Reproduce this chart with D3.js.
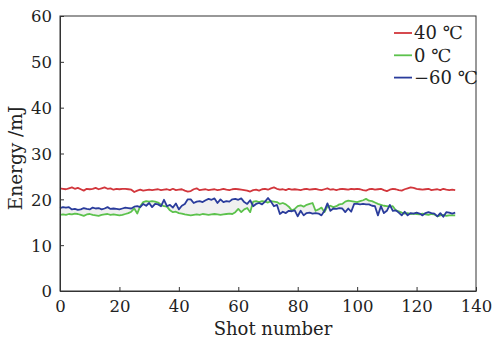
<!DOCTYPE html>
<html>
<head>
<meta charset="utf-8">
<script src="https://cdn.jsdelivr.net/npm/d3@7"></script>
<style>
  html, body { margin: 0; padding: 0; background: #fff; }
  svg { display: block; }
  text { font-family: "DejaVu Serif", "Liberation Serif", serif; fill: #222; }
</style>
</head>
<body>
<svg id="chart" width="494" height="342"></svg>
<script>
// Pulse energy per shot at three temperatures (mJ)
const energy40 = [
  22.4,22.3,22.2,22.4,22.6,22.3,22.5,22.2,21.9,22.3,22.2,22.3,22.5,22.2,22.4,22.6,22.3,22.4,22.1,22.3,
  22.2,22.3,22.3,22.2,22.1,21.6,21.9,22.1,21.9,22.0,22.1,22.0,22.1,22.2,22.0,22.1,22.2,22.0,22.3,22.0,
  22.1,22.2,21.9,21.7,21.8,22.2,22.4,22.0,22.1,22.2,22.0,22.1,22.2,22.0,22.1,22.3,22.1,22.0,22.2,22.3,
  22.2,22.1,22.0,21.9,21.7,22.0,22.1,21.9,22.2,22.3,22.1,22.4,22.6,22.3,22.1,22.2,22.0,22.3,22.1,22.2,
  22.1,22.0,22.2,22.3,22.1,22.2,22.3,22.1,22.0,22.2,22.4,22.1,22.2,22.0,22.2,22.3,22.2,22.1,22.3,22.2,
  22.3,22.2,22.0,21.9,22.2,22.3,22.1,22.2,22.3,22.0,21.8,22.1,22.3,22.2,22.0,21.9,22.2,22.4,22.6,22.5,
  22.3,22.2,22.1,22.2,22.3,22.0,22.1,22.2,22.0,22.3,22.1,22.0,22.1,22.0
];
const energy0 = [
  16.6,16.7,16.6,16.8,16.7,16.9,16.8,16.6,16.4,16.7,16.8,16.6,16.5,16.4,16.6,16.7,16.8,16.6,16.7,16.6,
  16.5,16.6,16.8,17.0,17.3,18.0,16.9,18.5,19.4,19.6,19.5,19.6,19.5,19.3,18.8,18.5,18.4,17.6,17.2,17.3,
  17.0,16.9,16.7,16.6,16.5,16.6,16.7,16.6,16.8,16.7,16.6,16.7,16.8,16.7,16.6,16.7,16.8,16.9,16.8,17.2,
  17.9,17.2,17.8,18.1,17.2,19.5,19.6,19.4,19.6,19.5,19.3,19.6,19.5,19.4,19.0,19.2,18.9,18.4,17.6,17.9,
  18.5,18.7,18.4,18.8,19.0,19.2,17.5,17.8,18.2,17.2,18.4,18.6,18.3,18.5,18.9,19.0,19.5,19.7,19.6,19.5,
  19.4,19.6,19.8,20.1,19.7,19.6,19.3,19.0,18.8,18.6,18.5,18.4,18.5,17.6,17.4,17.1,16.9,17.0,16.8,16.9,
  16.8,16.7,16.9,16.7,16.6,16.8,16.7,16.3,16.5,16.6,16.4,16.5,16.5,16.5
];
const energyM60 = [
  18.1,18.3,18.2,18.3,17.8,17.9,17.7,17.8,18.1,17.9,17.8,18.2,18.0,18.1,17.8,18.0,18.3,17.9,18.0,17.9,
  17.8,18.0,18.2,18.1,18.0,18.4,18.5,18.3,19.0,18.6,19.2,18.3,19.0,18.9,18.5,19.9,18.5,18.8,18.2,19.1,
  17.8,18.6,19.0,20.0,20.0,19.2,19.5,19.6,19.4,19.8,20.1,19.9,20.2,19.2,20.0,19.4,19.6,19.5,20.0,20.1,
  19.9,20.2,19.4,19.0,19.8,18.5,19.0,19.2,18.9,19.5,20.3,19.5,18.5,18.8,16.8,17.3,17.0,17.5,17.4,17.6,
  16.3,17.5,16.5,17.0,17.1,16.9,17.0,16.9,16.5,17.5,19.1,17.5,18.0,17.9,18.1,18.0,17.2,18.0,17.3,19.0,
  19.0,18.9,19.0,18.9,18.9,18.6,18.5,16.5,18.5,17.0,17.5,18.8,17.5,17.6,17.1,16.5,17.3,16.5,17.0,16.9,
  17.1,16.9,16.5,17.0,17.2,17.0,16.9,16.3,17.0,16.2,17.2,17.1,16.9,17.1
];

const seriesNames = ["40 \u2103", "0 \u2103", "\u221260 \u2103"];
const seriesColors = ["#d2363c", "#5cc24c", "#2a3c9c"];
const xTicks = [0, 20, 40, 60, 80, 100, 120, 140];
const yTicks = [0, 10, 20, 30, 40, 50, 60];

const svg = d3.select("#chart");
const margin = { left: 60, right: 18, top: 16, bottom: 51 };
const W = 494, H = 342;

const x = d3.scaleLinear().domain([0, 140]).range([margin.left, W - margin.right]);
const y = d3.scaleLinear().domain([0, 60]).range([H - margin.bottom, margin.top]);

const series = [energy40, energy0, energyM60];

// faint shading between the 0 ℃ and −60 ℃ traces
const band = d3.area()
  .x((d, i) => x(i))
  .y0((d, i) => y(energy0[i]))
  .y1((d, i) => y(energyM60[i]));
svg.append("path")
  .datum(energy0)
  .attr("d", band)
  .attr("fill", "#ececec")
  .attr("opacity", 0.8);

const line = d3.line().x((d, i) => x(i)).y(d => y(d));

// draw green first, then blue, then red on top
[1, 2, 0].forEach(k => {
  svg.append("path")
    .datum(series[k])
    .attr("d", line)
    .attr("fill", "none")
    .attr("stroke", seriesColors[k])
    .attr("stroke-width", 1.8)
    .attr("stroke-linejoin", "round");
});

// frame
svg.append("rect")
  .attr("x", x(0)).attr("y", y(60))
  .attr("width", x(140) - x(0)).attr("height", y(0) - y(60))
  .attr("fill", "none").attr("stroke", "#333").attr("stroke-width", 1);

// axes with inward ticks
const xAxis = svg.append("g")
  .attr("transform", `translate(0,${y(0)})`)
  .call(d3.axisBottom(x).tickValues(xTicks).tickSizeInner(-4).tickSizeOuter(0).tickPadding(8));
const yAxis = svg.append("g")
  .attr("transform", `translate(${x(0)},0)`)
  .call(d3.axisLeft(y).tickValues(yTicks).tickSizeInner(-4).tickSizeOuter(0).tickPadding(8));

[xAxis, yAxis].forEach(g => {
  g.select(".domain").attr("stroke", "#333");
  g.selectAll(".tick line").attr("stroke", "#333");
  g.selectAll("text")
    .style("font-family", '"DejaVu Serif", serif')
    .style("font-size", "16.5px")
    .attr("fill", "#222");
});
yAxis.selectAll(".tick text").attr("dy", "0.36em");
xAxis.selectAll(".tick text").attr("y", 9).attr("dy", "0.71em");

// axis titles
svg.append("text")
  .attr("x", 273).attr("y", 335)
  .attr("text-anchor", "middle")
  .style("font-size", "18px")
  .text("Shot number");
svg.append("text")
  .attr("transform", "translate(22,158) rotate(-90)")
  .attr("text-anchor", "middle")
  .style("font-size", "18.5px")
  .text("Energy /mJ");

// legend
const legend = svg.append("g");
seriesNames.forEach((name, k) => {
  const ly = 33 + k * 22.3;
  legend.append("line")
    .attr("x1", 394).attr("x2", 412)
    .attr("y1", ly).attr("y2", ly)
    .attr("stroke", seriesColors[k]).attr("stroke-width", 1.8);
  legend.append("text")
    .attr("x", 414).attr("y", ly)
    .attr("dy", "0.36em")
    .style("font-size", "18px")
    .text(name);
});
</script>
</body>
</html>
